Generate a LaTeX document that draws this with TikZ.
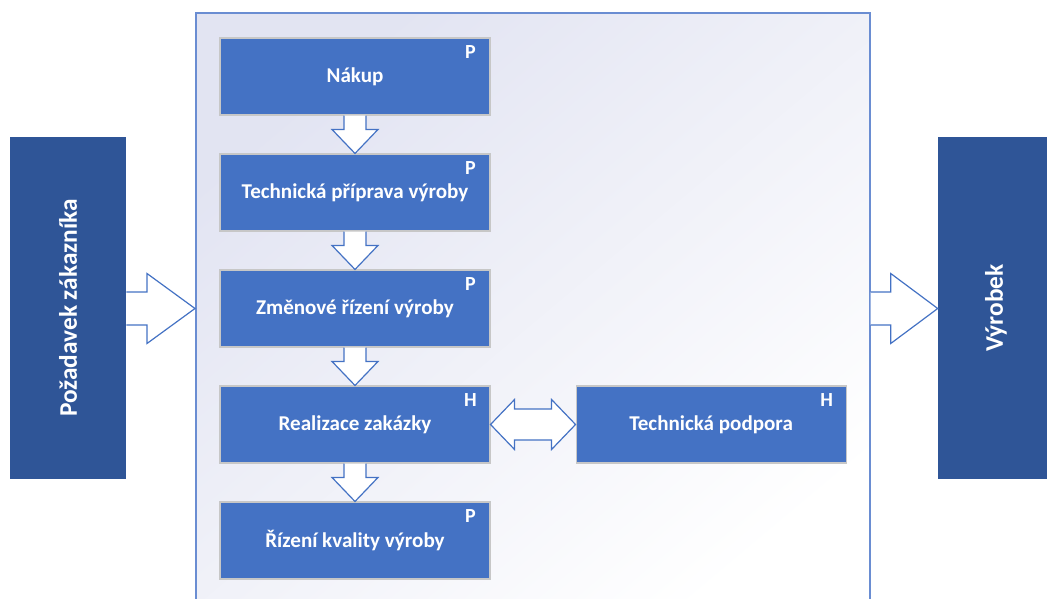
\documentclass[tikz,border=0pt]{standalone}
\usepackage{fontspec}
\setmainfont{Carlito}
\usetikzlibrary{calc,positioning}
\definecolor{boxBlue}{HTML}{4472C4}
\definecolor{barBlue}{HTML}{2F5597}
\definecolor{edgeBlue}{HTML}{6A8DD2}
\definecolor{frameTint}{HTML}{E2E4F2}
\definecolor{frameMid}{HTML}{FBFBFD}
\begin{document}
\begin{tikzpicture}
[x=0.75pt,y=-0.75pt,%
  procBox/.style={fill=boxBlue,draw=black!22,line width=0.8pt,minimum width=202.5pt,
    minimum height=57.75pt,inner sep=0pt,text=white,font=\fontsize{15.8}{19}\selectfont\bfseries},
  tagText/.style={text=white,inner sep=0pt,font=\fontsize{15}{18}\selectfont\bfseries},
  sideBar/.style={fill=barBlue,minimum width=87pt,minimum height=256.5pt,inner sep=0pt,
    text=white,font=\fontsize{19}{23}\selectfont\bfseries},
  blockArrow/.style={fill=white,draw=boxBlue,line width=0.9pt,line join=miter},
  frameBox/.style={draw=edgeBlue,line width=1.2pt,inner sep=0pt,
    top color=frameTint,middle color=frameMid,bottom color=white,shading angle=40}]
\useasboundingbox (0,0) rectangle (1047,599);
%% frame and side bars
\node[frameBox,minimum width=505.5pt,minimum height=465pt,anchor=north west] (frame) at (195,12) {};
\node[sideBar] (zakaznik) at (68,308) {\rotatebox{90}{Požadavek zákazníka}};
\node[sideBar] (vyrobek) at (996,308) {\rotatebox{90}{Výrobek}};
%% process boxes
\foreach \name/\y/\tag/\txt in {
  nakup/76.5/P/Nákup, priprava/192.5/P/Technická příprava výroby,
  zmena/308.5/P/Změnové řízení výroby, realizace/424.5/H/Realizace zakázky,
  kvalita/540.5/P/Řízení kvality výroby}
{
  \node[procBox] (\name) at (355,\y) {\txt};
  \node[tagText] (\name-tag) at ($(\name.north east)+(-20,15)$) {\tag};
}
\node[procBox,right=63.75pt of realizace] (podpora) {Technická podpora};
\node[tagText] (podpora-tag) at ($(podpora.north east)+(-20,15)$) {H};
%% block arrows down
\foreach \a/\b in {nakup/priprava, priprava/zmena, zmena/realizace, realizace/kvalita}
{
  \filldraw[blockArrow] ($(\a.south)+(-11,0)$) -- ($(\b.north)+(-11,-24)$) -- ($(\b.north)+(-23,-24)$)
    -- (\b.north) -- ($(\b.north)+(23,-24)$) -- ($(\b.north)+(11,-24)$) -- ($(\a.south)+(11,0)$);
}
%% in and out arrows
\coordinate (inStart) at (zakaznik.east |- zmena);
\coordinate (inTip) at (frame.west |- zmena);
\coordinate (outStart) at (frame.east |- zmena);
\coordinate (outTip) at (vyrobek.west |- zmena);
\filldraw[blockArrow] ($(inStart)+(0,-16.5)$) -- ($(inTip)+(-48,-16.5)$) -- ($(inTip)+(-48,-35)$)
  -- (inTip) -- ($(inTip)+(-48,35)$) -- ($(inTip)+(-48,16.5)$) -- ($(inStart)+(0,16.5)$);
\filldraw[blockArrow] ($(outStart)+(0,-16.5)$) -- ($(outTip)+(-47,-16.5)$) -- ($(outTip)+(-47,-35)$)
  -- (outTip) -- ($(outTip)+(-47,35)$) -- ($(outTip)+(-47,16.5)$) -- ($(outStart)+(0,16.5)$);
%% double arrow
\filldraw[blockArrow] (realizace.east) -- ($(realizace.east)+(24,-25)$) -- ($(realizace.east)+(24,-15.5)$)
  -- ($(podpora.west)+(-24,-15.5)$) -- ($(podpora.west)+(-24,-25)$) -- (podpora.west)
  -- ($(podpora.west)+(-24,25)$) -- ($(podpora.west)+(-24,15.5)$) -- ($(realizace.east)+(24,15.5)$)
  -- ($(realizace.east)+(24,25)$) -- cycle;
\end{tikzpicture}
\end{document}
